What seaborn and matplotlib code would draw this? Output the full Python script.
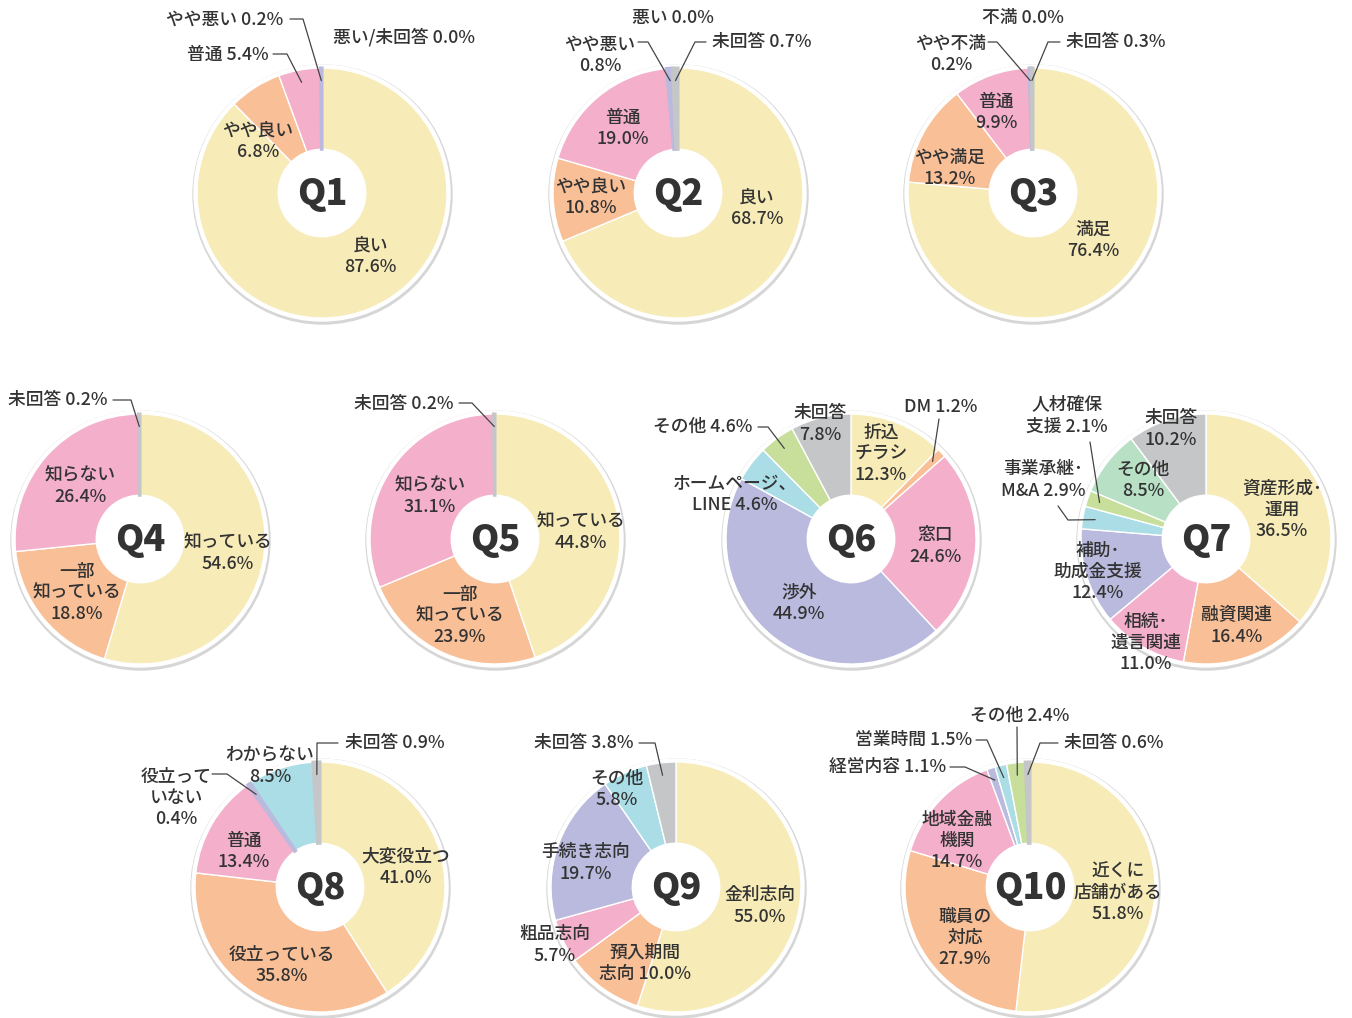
import numpy as np
import matplotlib.pyplot as plt
from matplotlib.patches import Circle
import seaborn as sns

sns.set_theme(style="white")
plt.rcParams["font.family"] = ["Noto Sans CJK JP", "DejaVu Sans"]

# Survey results (percent), slices listed clockwise from 12 o'clock
Q1_LABELS = ["良い", "やや良い", "普通", "やや悪い", "悪い/未回答"]
Q1_VALUES = [87.6, 6.8, 5.4, 0.2, 0.0]

Q2_LABELS = ["良い", "やや良い", "普通", "やや悪い", "悪い", "未回答"]
Q2_VALUES = [68.7, 10.8, 19.0, 0.8, 0.0, 0.7]

Q3_LABELS = ["満足", "やや満足", "普通", "やや不満", "不満", "未回答"]
Q3_VALUES = [76.4, 13.2, 9.9, 0.2, 0.0, 0.3]

Q4_LABELS = ["知っている", "一部\n知っている", "知らない", "未回答"]
Q4_VALUES = [54.6, 18.8, 26.4, 0.2]

Q5_LABELS = ["知っている", "一部\n知っている", "知らない", "未回答"]
Q5_VALUES = [44.8, 23.9, 31.1, 0.2]

Q6_LABELS = ["折込\nチラシ", "DM", "窓口", "渉外", "ホームページ、\nLINE", "その他", "未回答"]
Q6_VALUES = [12.3, 1.2, 24.6, 44.9, 4.6, 4.6, 7.8]

Q7_LABELS = ["資産形成･\n運用", "融資関連", "相続･\n遺言関連", "補助･\n助成金支援",
             "事業承継･\nM&A", "人材確保\n支援", "その他", "未回答"]
Q7_VALUES = [36.5, 16.4, 11.0, 12.4, 2.9, 2.1, 8.5, 10.2]

Q8_LABELS = ["大変役立つ", "役立っている", "普通", "役立って\nいない", "わからない", "未回答"]
Q8_VALUES = [41.0, 35.8, 13.4, 0.4, 8.5, 0.9]

Q9_LABELS = ["金利志向", "預入期間\n志向", "粗品志向", "手続き志向", "その他", "未回答"]
Q9_VALUES = [55.0, 10.0, 5.7, 19.7, 5.8, 3.8]

Q10_LABELS = ["近くに\n店舗がある", "職員の\n対応", "地域金融\n機関", "経営内容", "営業時間", "その他", "未回答"]
Q10_VALUES = [51.8, 27.9, 14.7, 1.1, 1.5, 2.4, 0.6]

# Colours
PAL = {
    "y": "#F7EBB7", "o": "#F9BF97", "p": "#F4AFCB", "l": "#B9BADE",
    "b": "#AADDE6", "g": "#C7DF9A", "m": "#B7E0C5", "k": "#C5C6C8",
}
TEXT = "#333333"
LINE = "#444444"

W, H = 1352, 1018
R = 125

# Layout (pixel coords, y from top): centre, slice colours, label placement
# label: (x, y, ha, sep, leader) ; leader = [start, elbow] or None
CHARTS = [
    ("Q1", Q1_LABELS, Q1_VALUES, (322, 193), "yoplk", [
        (370, 256, "center", "\n", None),
        (258, 141, "center", "\n", None),
        (269, 55, "right", " ", [(273, 54), (287, 54)]),
        (283, 20, "right", " ", [(290, 19), (303, 19)]),
        (333, 37, "left", " ", None),
    ]),
    ("Q2", Q2_LABELS, Q2_VALUES, (678, 193), "yoplkk", [
        (757, 208, "center", "\n", None),
        (591, 197, "center", "\n", None),
        (623, 128, "center", "\n", None),
        (600, 55, "center", "\n", [(638, 42), (648, 42)]),
        (673, 18, "center", " ", None),
        (712, 42, "left", " ", [(706, 42), (695, 42)]),
    ]),
    ("Q3", Q3_LABELS, Q3_VALUES, (1033, 193), "yoplkk", [
        (1093, 240, "center", "\n", None),
        (950, 168, "center", "\n", None),
        (996, 112, "center", "\n", None),
        (951, 54, "center", "\n", [(988, 42), (997, 42)]),
        (1023, 18, "center", " ", None),
        (1066, 42, "left", " ", [(1060, 42), (1048, 42)]),
    ]),
    ("Q4", Q4_LABELS, Q4_VALUES, (140, 539), "yopk", [
        (228, 553, "center", "\n", None),
        (77, 593, "center", "\n", None),
        (80, 486, "center", "\n", None),
        (107, 400, "right", " ", [(113, 400), (131, 400)]),
    ]),
    ("Q5", Q5_LABELS, Q5_VALUES, (495, 539), "yopk", [
        (581, 532, "center", "\n", None),
        (460, 616, "center", "\n", None),
        (430, 496, "center", "\n", None),
        (453, 404, "right", " ", [(459, 403), (472, 403)]),
    ]),
    ("Q6", Q6_LABELS, Q6_VALUES, (851, 539), "yoplbgk", [
        (881, 454, "center", "\n", None),
        (941, 407, "center", " ", [(939, 419), (939, 419)]),
        (935, 546, "center", "\n", None),
        (799, 603, "center", "\n", None),
        (735, 494, "center", " ", None),
        (752, 427, "right", " ", [(758, 427), (768, 427)]),
        (820, 424, "center", "\n", None),
    ]),
    ("Q7", Q7_LABELS, Q7_VALUES, (1206, 539), "yoplbgmk", [
        (1282, 510, "center", "\n", None),
        (1237, 626, "center", "\n", None),
        (1146, 643, "center", "\n", None),
        (1098, 572, "center", "\n", None),
        (1043, 480, "center", " ", [(1058, 506), (1068, 520)]),
        (1067, 416, "center", " ", [(1090, 442), (1090, 442)]),
        (1143, 480, "center", "\n", None),
        (1171, 429, "center", "\n", None),
    ]),
    ("Q8", Q8_LABELS, Q8_VALUES, (320, 887), "yoplbk", [
        (406, 867, "center", "\n", None),
        (282, 965, "center", "\n", None),
        (244, 851, "center", "\n", None),
        (176, 798, "center", "\n", [(212, 774), (227, 774)]),
        (270, 766, "center", "\n", None),
        (345, 743, "left", " ", [(338, 743), (317, 743)]),
    ]),
    ("Q9", Q9_LABELS, Q9_VALUES, (676, 887), "yoplbk", [
        (760, 906, "center", "\n", None),
        (645, 963, "center", " ", None),
        (555, 945, "center", "\n", None),
        (586, 863, "center", "\n", None),
        (617, 789, "center", "\n", None),
        (633, 743, "right", " ", [(639, 743), (655, 743)]),
    ]),
    ("Q10", Q10_LABELS, Q10_VALUES, (1030, 887), "yoplbgk", [
        (1118, 893, "center", "\n", None),
        (965, 938, "center", "\n", None),
        (957, 841, "center", "\n", None),
        (946, 767, "right", " ", [(950, 767), (965, 767)]),
        (972, 740, "right", " ", [(976, 740), (987, 740)]),
        (1020, 716, "center", " ", [(1017, 727), (1017, 727)]),
        (1064, 743, "left", " ", [(1058, 743), (1040, 743)]),
    ]),
]


def Y(y):
    return H - y


fig = plt.figure(figsize=(W / 100, H / 100), dpi=100)
ax = fig.add_axes([0, 0, 1, 1])

for title, labels, values, (cx, cy), ckeys, layout in CHARTS:
    colors = [PAL[c] for c in ckeys]
    # soft shadow + white rim
    ax.add_patch(Circle((cx + 0.5, Y(cy) - 1.5), R + 4.5, color="#d6d6d6", zorder=0))
    ax.add_patch(Circle((cx, Y(cy)), R + 3, color="white", zorder=0.5))
    wedges, _ = ax.pie(values, colors=colors, startangle=90, counterclock=False, radius=R,
                       center=(cx, Y(cy)), frame=True,
                       wedgeprops=dict(width=R * 0.65, edgecolor="white", linewidth=1.0))
    # keep very small (non-zero) slices visible under the white separators
    for w, v, c in zip(wedges, values, colors):
        if 0 < v < 1:
            w.set_edgecolor(c)
            w.set_linewidth(2.2)
            w.set_zorder(3)
    ax.text(cx, Y(cy) - 1, title, ha="center", va="center", fontsize=26,
            fontweight="black", color=TEXT, zorder=5)

    cum = np.cumsum([0] + values[:-1])
    for name, val, start, (tx, ty, ha, sep, leader) in zip(labels, values, cum, layout):
        ax.text(tx, Y(ty), f"{name}{sep}{val:.1f}%", ha=ha, va="center",
                fontsize=12.8, fontweight="medium", color=TEXT, linespacing=1.22, zorder=6)
        if leader:
            mid = np.deg2rad(90 - 3.6 * (start + val / 2))
            ax_ = cx + R * 0.9 * np.cos(mid)
            ay_ = Y(cy) + R * 0.9 * np.sin(mid)
            xs = [leader[0][0], leader[1][0], ax_]
            ys = [Y(leader[0][1]), Y(leader[1][1]), ay_]
            ax.plot(xs, ys, color=LINE, lw=0.9, zorder=6)

ax.set_xlim(0, W)
ax.set_ylim(0, H)
ax.set_aspect("equal")
ax.set_axis_off()

fig.savefig("out.png", dpi=100, facecolor="white")
